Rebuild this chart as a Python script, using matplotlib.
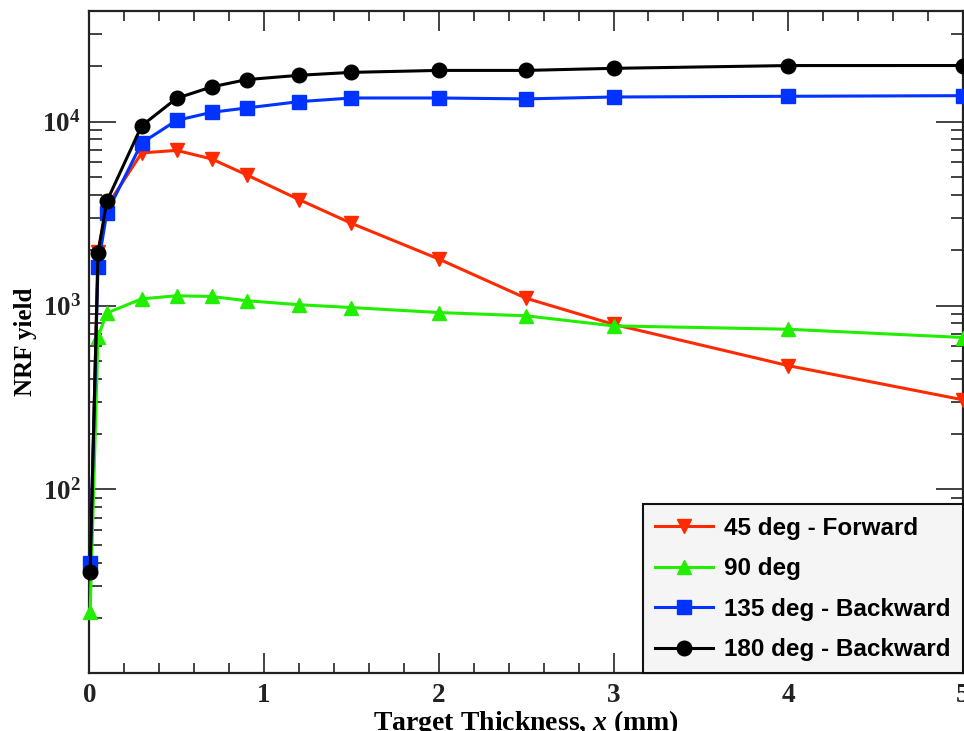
import math
import matplotlib
matplotlib.use("Agg")
import matplotlib.pyplot as plt
from matplotlib.ticker import FixedLocator, FuncFormatter, MultipleLocator, LogLocator, NullFormatter

# NRF yield vs target thickness for four detector angles
thickness = [0.005, 0.05, 0.1, 0.3, 0.5, 0.7, 0.9, 1.2, 1.5, 2.0, 2.5, 3.0, 4.0, 5.0]

yield_45 = [36, 1950, 3460, 6760, 6980, 6270, 5140, 3770, 2800, 1790, 1095, 790, 471, 307]
yield_90 = [21.5, 673, 910, 1087, 1130, 1120, 1062, 1010, 975, 916, 879, 775, 743, 670]
yield_135 = [40, 1630, 3185, 7660, 10160, 11240, 11870, 12850, 13450, 13450, 13300, 13620, 13740, 13850]
yield_180 = [35.6, 1930, 3680, 9500, 13400, 15450, 16930, 17870, 18540, 19000, 19000, 19500, 20190, 20200]

labels = ["45 deg - Forward", "90 deg", "135 deg - Backward", "180 deg - Backward"]
colors = ["#ff2a00", "#22ee00", "#0033ff", "#000000"]
markers = ["v", "^", "s", "o"]

plt.rcParams["mathtext.fontset"] = "custom"
plt.rcParams["mathtext.rm"] = "Liberation Serif:bold"
plt.rcParams["mathtext.bf"] = "Liberation Serif:bold"
plt.rcParams["mathtext.it"] = "Liberation Serif:bold:italic"

fig = plt.figure(figsize=(9.64, 7.31), dpi=100)
ax = fig.add_axes([0.0926, 0.079, 0.9064, 0.906])

for ys, lab, c, m in zip([yield_45, yield_90, yield_135, yield_180], labels, colors, markers):
    ax.plot(thickness, ys, color=c, marker=m, markersize=10.5, linewidth=2.2, label=lab, clip_on=False, zorder=3)

ax.set_yscale("log")
ax.set_xlim(0, 5)
ax.set_ylim(10, 4e4)

ax.xaxis.set_major_locator(MultipleLocator(1))
ax.xaxis.set_minor_locator(MultipleLocator(0.2))
ax.yaxis.set_major_locator(FixedLocator([10, 100, 1000, 10000]))
ax.yaxis.set_minor_locator(LogLocator(base=10, subs=range(2, 10)))
ax.yaxis.set_minor_formatter(NullFormatter())


def fmt_y(v, pos):
    if v < 50:
        return ""
    return r"$\mathbf{10^{%d}}$" % int(round(math.log10(v)))


ax.yaxis.set_major_formatter(FuncFormatter(fmt_y))
ax.xaxis.set_major_formatter(FuncFormatter(lambda v, p: "%d" % v))

ax.tick_params(axis="both", which="both", direction="in", top=True, right=True, width=1.2, colors="#222222")
ax.tick_params(axis="x", which="major", length=14.5, pad=7)
ax.tick_params(axis="x", which="minor", length=7)
ax.tick_params(axis="y", which="major", length=19.5, pad=6)
ax.tick_params(axis="y", which="minor", length=9)

for lbl in ax.get_xticklabels() + ax.get_yticklabels():
    lbl.set_fontfamily("Liberation Serif")
    lbl.set_fontweight("bold")
    lbl.set_fontsize(19.5)

for s in ax.spines.values():
    s.set_linewidth(1.6)
    s.set_color("#222222")

ax.set_xlabel(r"Target Thickness, $\mathit{x}$ (mm)", fontfamily="Liberation Serif", fontweight="bold", fontsize=20, labelpad=0)
ax.set_ylabel("NRF yield", fontfamily="Liberation Serif", fontweight="bold", fontsize=18, labelpad=4)

leg = ax.legend(loc="lower right", borderaxespad=0, fancybox=False, framealpha=1,
                facecolor="#f5f5f5", edgecolor="#111111", handlelength=2.4, handletextpad=0.45,
                labelspacing=0.72, borderpad=0.5,
                prop={"family": "Liberation Sans", "weight": "bold", "size": 17.5})
leg.get_frame().set_linewidth(1.5)

fig.savefig("out.png", dpi=100)
